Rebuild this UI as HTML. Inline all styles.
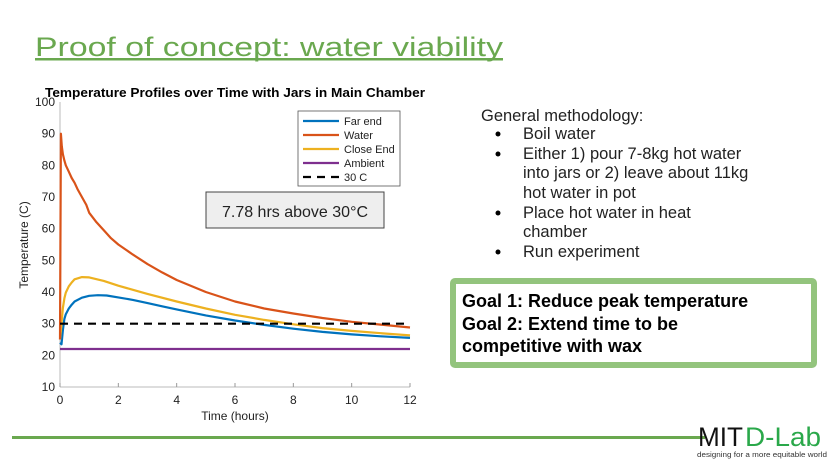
<!DOCTYPE html>
<html><head><meta charset="utf-8"><style>
body{margin:0;background:#fff;}
svg{display:block;font-family:"Liberation Sans",sans-serif;}
</style></head><body>
<svg width="836" height="467" viewBox="0 0 836 467">
<text x="35" y="56" font-size="27" fill="#6aa84f" textLength="468" lengthAdjust="spacingAndGlyphs">Proof of concept: water viability</text>
<rect x="35" y="58" width="468" height="2.5" fill="#6aa84f"/>
<rect x="12" y="436" width="693" height="3" fill="#6aa84f"/>
<text x="698" y="446" font-size="27" fill="#111" textLength="45" lengthAdjust="spacingAndGlyphs">MIT</text>
<text x="745" y="446" font-size="27" fill="#2aa84a" textLength="76" lengthAdjust="spacingAndGlyphs">D-Lab</text>
<text x="697" y="457" font-size="7.5" fill="#333" textLength="130" lengthAdjust="spacingAndGlyphs">designing for a more equitable world</text>

<g font-size="16.5" fill="#222">
<text x="481" y="121">General methodology:</text>
<circle cx="498" cy="134" r="2.5" fill="#000"/><text x="523" y="139">Boil water</text>
<circle cx="498" cy="154" r="2.5" fill="#000"/><text x="523" y="159">Either 1) pour 7-8kg hot water</text>
<text x="523" y="178">into jars or 2) leave about 11kg</text>
<text x="523" y="198">hot water in pot</text>
<circle cx="498" cy="213" r="2.5" fill="#000"/><text x="523" y="218">Place hot water in heat</text>
<text x="523" y="237">chamber</text>
<circle cx="498" cy="252" r="2.5" fill="#000"/><text x="523" y="257">Run experiment</text>
</g>
<rect x="453" y="281" width="361" height="84" fill="#fff" stroke="#93c47d" stroke-width="6" rx="2"/>
<g font-size="18" font-weight="bold" fill="#000">
<text x="462" y="307">Goal 1: Reduce peak temperature</text>
<text x="462" y="330">Goal 2: Extend time to be</text>
<text x="462" y="352">competitive with wax</text>
</g>

<g id="chart"></g>
</svg>
<script>
const xTicks=[0,2,4,6,8,10,12];
const yTicks=[10,20,30,40,50,60,70,80,90,100];
const tFar=[0,0.05,0.1,0.15,0.2,0.3,0.4,0.5,0.75,1,1.3,1.6,2,2.5,3,3.5,4,5,6,7,8,9,10,11,12];
const farEnd=[24,23.5,28,31.5,33,34.8,36,37,38.2,38.8,39,38.9,38.3,37.5,36.5,35.5,34.5,32.6,31,29.6,28.4,27.4,26.6,26,25.5];
const tWater=[0,0.03,0.06,0.1,0.15,0.2,0.3,0.4,0.5,0.6,0.75,0.9,1,1.25,1.5,1.75,2,2.5,3,3.5,4,5,6,7,8,9,10,11,12];
const water=[25,90,86,83.5,81.5,80,78,76,74.5,72.5,70,67.5,65,62,59.5,57,55,51.8,48.8,46.2,43.8,40,37,34.8,33.2,31.8,30.6,29.7,28.8];
const tClose=[0,0.05,0.1,0.15,0.2,0.3,0.4,0.5,0.75,1,1.5,2,2.5,3,4,5,6,7,8,9,10,11,12];
const closeEnd=[25,30,35,38,39.8,41.8,43,44,44.7,44.6,43.5,42,40.7,39.4,37,34.8,32.8,31.2,29.8,28.6,27.7,27,26.3];
const tAmb=[0,12];
const ambient=[22,22];
const threshold=30;
const ns="http://www.w3.org/2000/svg";
const g=document.getElementById('chart');
const X=v=>60+v/12*350, Y=v=>387-(v-10)/90*285;
function el(tag,attrs,txt){const e=document.createElementNS(ns,tag);for(const k in attrs)e.setAttribute(k,attrs[k]);if(txt!=null)e.textContent=txt;g.appendChild(e);return e;}
let e;
e=el('text',{x:235,y:97,'font-size':13,'font-weight':'bold','text-anchor':'middle',fill:'#000',textLength:380,lengthAdjust:'spacingAndGlyphs'},'Temperature Profiles over Time with Jars in Main Chamber');


e=el('line',{x1:60,y1:102,x2:60,y2:387,stroke:'#bbb','stroke-width':1});


e=el('line',{x1:60,y1:387,x2:410,y2:387,stroke:'#bbb','stroke-width':1});


yTicks.forEach(v=>{e=el('text',{x:55,y:Y(v)+4,'font-size':12,'text-anchor':'end',fill:'#222'},v);

});
xTicks.forEach(v=>{el('line',{x1:X(v),y1:387,x2:X(v),y2:383,stroke:'#999'});e=el('text',{x:X(v),y:404,'font-size':12,'text-anchor':'middle',fill:'#222'},v);

});
e=el('text',{x:235,y:420,'font-size':12,'text-anchor':'middle',fill:'#222'},'Time (hours)');


e=el('text',{x:28,y:245,'font-size':12,'text-anchor':'middle',fill:'#222',transform:'rotate(-90 28 245)'},'Temperature (C)');


function line(ts,vs,color,name,dash){const d=ts.map((t,i)=>(i?'L':'M')+X(t).toFixed(1)+','+Y(vs[i]).toFixed(1)).join(' ');
const p=el('path',{d:d,fill:'none',stroke:color,'stroke-width':2.2,'stroke-linejoin':'round'});if(dash)p.setAttribute('stroke-dasharray',dash);

}
line(tAmb,ambient,'#7e2f8e','ambient-line');
line(tFar,farEnd,'#0072bd','far-end-line');
line(tClose,closeEnd,'#edb120','close-end-line');
line(tWater,water,'#d95319','water-line');
line(tAmb,[threshold,threshold],'#000','threshold-30c-line','8,6');
e=el('rect',{x:298,y:111,width:102,height:75,fill:'#fff',stroke:'#555','stroke-width':0.8});


const legNames=['Far end','Water','Close End','Ambient','30 C'];
const legColors=['#0072bd','#d95319','#edb120','#7e2f8e','#000'];
legNames.forEach((n,i)=>{const y=121+i*14;const l=el('line',{x1:303,y1:y,x2:339,y2:y,stroke:legColors[i],'stroke-width':2.2});if(i==4)l.setAttribute('stroke-dasharray','8,6');
e=el('text',{x:344,y:y+4,'font-size':11,fill:'#222'},n);

});
e=el('rect',{x:206,y:192,width:178,height:36,fill:'#eee',stroke:'#444','stroke-width':1});


e=el('text',{x:295,y:217,'font-size':16,'text-anchor':'middle',fill:'#222'},'7.78 hrs above 30°C');


</script>
</body></html>
